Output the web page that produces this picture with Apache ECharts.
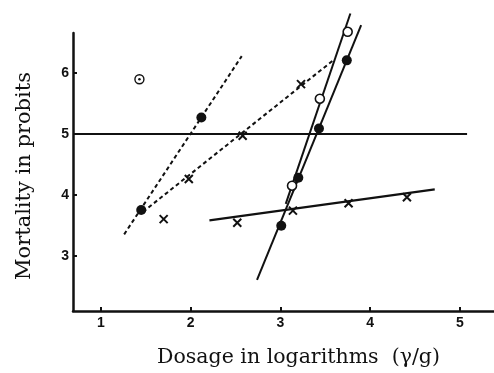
<!DOCTYPE html>
<html>
<head>
<meta charset="utf-8">
<script src="https://cdn.jsdelivr.net/npm/echarts@6/dist/echarts.min.js"></script>
<style>html,body{margin:0;padding:0;background:#fff;}#c{width:494px;height:373px;}</style>
</head>
<body>
<div id="c"></div>
<script>
const xTicks = [1, 2, 3, 4, 5];
const yTicks = [3, 4, 5, 6];
const refLine = [[0.69, 5], [5.08, 5]];
const dashA = [[1.26, 3.35], [2.57, 6.28]];
const dashB = [[1.47, 3.72], [3.58, 6.20]];
const flatLine = [[2.21, 3.58], [4.72, 4.09]];
const steepFilled = [[2.74, 2.60], [3.90, 6.79]];
const steepOpen = [[3.06, 3.85], [3.78, 6.98]];
const filledDots = [[1.45, 3.75], [2.12, 5.27], [3.01, 3.49], [3.20, 4.28], [3.43, 5.09], [3.74, 6.21]];
const openCircles = [[3.13, 4.15], [3.44, 5.58], [3.75, 6.68]];
const dottedCircle = [[1.43, 5.90]];
const crosses = [[1.70, 3.60], [1.98, 4.26], [2.58, 4.97], [3.23, 5.82], [2.52, 3.54], [3.14, 3.74], [3.76, 3.86], [4.41, 3.96]];

const ink = '#111';
const chart = echarts.init(document.getElementById('c'), null, {renderer: 'canvas'});
function lineSeries(data, dashed, width) {
  return {
    type: 'line', data: data, symbol: 'none', clip: false, silent: true,
    lineStyle: {color: ink, width: width || 2, type: dashed ? [4, 3] : 'solid', opacity: 1},
    z: 2
  };
}
const tickFont = {color: ink, fontFamily: 'Liberation Sans', fontWeight: 'bold', fontSize: 14};
chart.setOption({
  animation: false,
  backgroundColor: '#fff',
  grid: {left: 73, right: 0, top: 33, bottom: 58, containLabel: false},
  xAxis: {
    type: 'value', min: 0.69, max: 5.38,
    name: 'Dosage in logarithms  (γ/g)', nameLocation: 'middle', nameGap: 36,
    nameTextStyle: {color: ink, fontFamily: 'DejaVu Serif', fontSize: 20.5, padding: [0, 0, 0, 30]},
    axisLine: {show: true, onZero: false, lineStyle: {color: ink, width: 2.5}},
    axisTick: {show: true, inside: true, length: 4, lineStyle: {color: ink, width: 2}, customValues: xTicks},
    axisLabel: {show: true, margin: 5, customValues: xTicks, ...tickFont},
    splitLine: {show: false}
  },
  yAxis: {
    type: 'value', min: 2.09, max: 6.66,
    name: 'Mortality in probits', nameLocation: 'middle', nameGap: 38, nameRotate: 90,
    nameTextStyle: {color: ink, fontFamily: 'DejaVu Serif', fontSize: 21, padding: [0, 8, 0, 0]},
    axisLine: {show: true, onZero: false, lineStyle: {color: ink, width: 2.5}},
    axisTick: {show: true, inside: true, length: 4, lineStyle: {color: ink, width: 2}, customValues: yTicks},
    axisLabel: {show: true, margin: 4, customValues: yTicks, ...tickFont},
    splitLine: {show: false}
  },
  series: [
    lineSeries(refLine, false, 1.8),
    lineSeries(dashA, true, 2),
    lineSeries(dashB, true, 2),
    lineSeries(flatLine, false, 2.2),
    lineSeries(steepFilled, false, 2),
    lineSeries(steepOpen, false, 2),
    {type: 'scatter', data: filledDots, symbol: 'circle', symbolSize: 10, clip: false, z: 5,
     itemStyle: {color: ink, opacity: 1}},
    {type: 'scatter', data: openCircles, symbol: 'circle', symbolSize: 9, clip: false, z: 5,
     itemStyle: {color: '#fff', borderColor: ink, borderWidth: 1.6, opacity: 1}},
    {type: 'scatter', data: dottedCircle, symbol: 'circle', symbolSize: 9, clip: false, z: 5,
     itemStyle: {color: '#fff', borderColor: ink, borderWidth: 1.4, opacity: 1}},
    {type: 'scatter', data: dottedCircle, symbol: 'circle', symbolSize: 2.5, clip: false, z: 6,
     itemStyle: {color: ink, opacity: 1}},
    {type: 'scatter', data: crosses, symbol: 'path://M0,0L10,10M10,0L0,10', symbolSize: 8, clip: false, z: 5,
     itemStyle: {color: 'none', borderColor: ink, borderWidth: 2, opacity: 1}}
  ]
});
</script>
</body>
</html>
